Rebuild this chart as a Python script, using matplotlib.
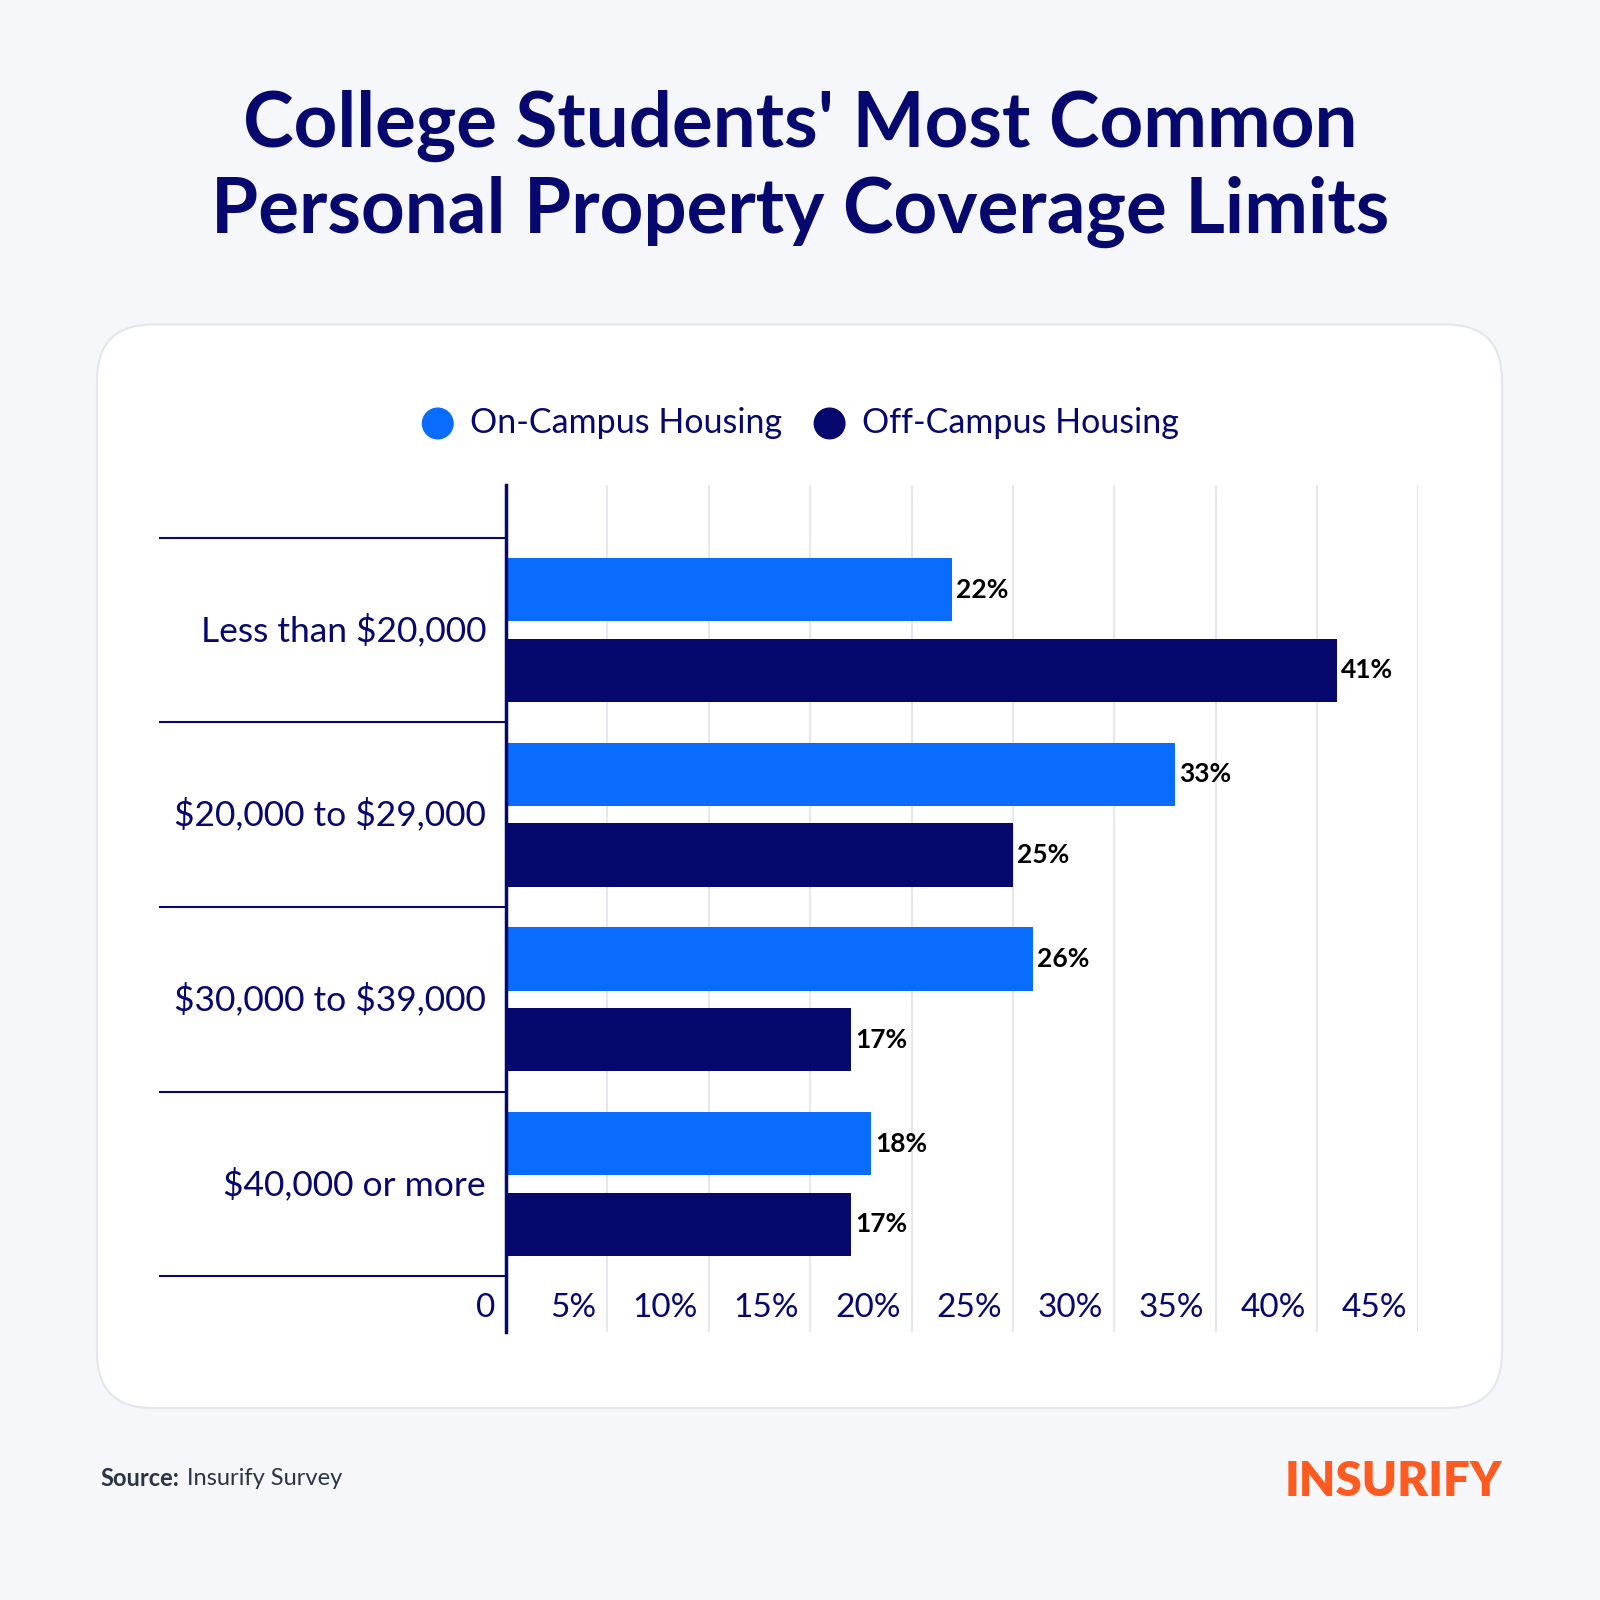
import matplotlib
matplotlib.use("Agg")
import matplotlib.pyplot as plt
from matplotlib.patches import FancyBboxPatch
import matplotlib.transforms as mtransforms

categories = ["Less than $20,000", "$20,000 to $29,000", "$30,000 to $39,000", "$40,000 or more"]
on_campus = [22, 33, 26, 18]
off_campus = [41, 25, 17, 17]
xticks = [0, 5, 10, 15, 20, 25, 30, 35, 40, 45]
xtick_labels = ["0", "5%", "10%", "15%", "20%", "25%", "30%", "35%", "40%", "45%"]

BLUE = "#0a6cff"
NAVY = "#07086e"
S = 1568.0
plt.rcParams['font.family'] = ['Lato', 'DejaVu Sans']
plt.rcParams['text.parse_math'] = False

fig = plt.figure(figsize=(16, 16), dpi=100)
fig.patch.set_facecolor("#f5f7fa")
card = FancyBboxPatch((95/S, 1-1380/S), (1472-95)/S, (1380-318)/S,
                      boxstyle="round,pad=0,rounding_size=0.035",
                      transform=fig.transFigure, facecolor="white",
                      edgecolor="#e3e6ee", linewidth=1.5, zorder=-5)
fig.patches.append(card)

fig.text(0.5, 1-123/S, "College Students' Most Common", ha="center", va="center",
         fontsize=55, fontweight="bold", color=NAVY)
fig.text(0.5, 1-208/S, "Personal Property Coverage Limits", ha="center", va="center",
         fontsize=55, fontweight="bold", color=NAVY)

# legend
fig.patches.append(plt.Circle((429/S, 1-415/S), 15/S, transform=fig.transFigure, color=BLUE))
fig.text(461/S, 1-415/S, "On-Campus Housing", va="center", fontsize=24.5, color=NAVY)
fig.patches.append(plt.Circle((813/S, 1-415/S), 15/S, transform=fig.transFigure, color=NAVY))
fig.text(845/S, 1-415/S, "Off-Campus Housing", va="center", fontsize=24.5, color=NAVY)

ax = fig.add_axes([496/S, 1-1305/S, (1390-496)/S, 830/S])
ax.set_zorder(5)
ax.set_facecolor("none")
ax.set_xlim(0, 45)
ax.set_ylim(3.80, -0.787)
h = 0.343
off = 0.218
ys = list(range(len(categories)))
b1 = ax.barh([y-off for y in ys], on_campus, height=h, color=BLUE)
b2 = ax.barh([y+off for y in ys], off_campus, height=h, color=NAVY)
for bars, vals in ((b1, on_campus), (b2, off_campus)):
    for r, v in zip(bars, vals):
        ax.text(v+0.2, r.get_y()+r.get_height()/2, f"{v}%", va="center", ha="left",
                fontsize=19, fontweight="bold", color="black")

for x in xticks[1:]:
    ax.axvline(x, color="#e6e8ef", lw=1.5, zorder=0)
for s in ["top", "right", "bottom"]:
    ax.spines[s].set_visible(False)
ax.spines["left"].set_color(NAVY)
ax.spines["left"].set_linewidth(2.5)
ax.set_xticks([]); ax.set_yticks([])

trans = mtransforms.blended_transform_factory(ax.transAxes, ax.transData)
for i in range(len(categories)+1):
    ax.plot([-0.379, 0], [i-0.5, i-0.5], color=NAVY, lw=1.5, transform=trans, clip_on=False)
for i, c in enumerate(categories):
    ax.text(-0.022, i, c, transform=trans, ha="right", va="center", fontsize=25.5, color=NAVY)

transx = mtransforms.blended_transform_factory(ax.transData, ax.transAxes)
for x, lab in zip(xticks, xtick_labels):
    ax.text(x-0.55, 0.028, lab, transform=transx, ha="right", va="center", fontsize=24, color=NAVY)

fig.text(98/S, 1-1449/S, "Source:", fontsize=17, fontweight="bold", color="#2b3445", va="center")
fig.text(183/S, 1-1449/S, "Insurify Survey", fontsize=17, color="#2b3445", va="center")
fig.text(1472/S, 1-1452/S, "INSURIFY", fontsize=34, fontweight="heavy", color="#ff5a1f",
         ha="right", va="center")

fig.savefig("out.png", dpi=100, facecolor=fig.get_facecolor())
